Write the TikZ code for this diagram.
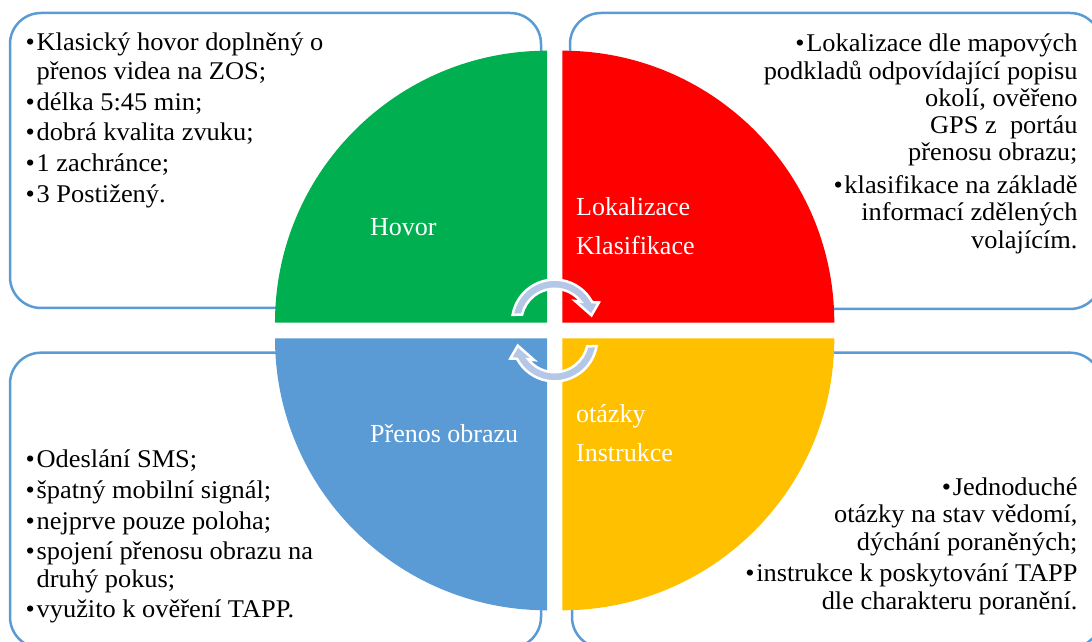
\documentclass[tikz,border=0pt]{standalone}
\usepackage{fontspec}
\setmainfont{Liberation Serif}
\newfontfamily\bodyfont{Liberation Serif}[FakeStretch=1.035]
\definecolor{qgreen}{HTML}{00B050}
\definecolor{qred}{HTML}{FF0000}
\definecolor{qblue}{HTML}{5B9BD5}
\definecolor{qyellow}{HTML}{FFC000}
\definecolor{frame}{HTML}{5B9BD5}
\definecolor{arrowfill}{HTML}{B4C7E7}
\newcommand{\bul}{\makebox[11pt][l]{•}}
\newcommand{\ind}{\hspace*{11pt}}
\begin{document}
\begin{tikzpicture}[x=1pt,y=1pt,
  infobox/.style={draw=frame, line width=2.5pt, rounded corners=31pt},
  body/.style={font=\bodyfont\fontsize{25.5}{27.3}\selectfont, inner sep=0pt},
  lbl/.style={font=\fontsize{26}{39}\selectfont, text=white, inner sep=0pt, align=left, anchor=base west},
  cyclearrow/.pic={
    \filldraw[fill=arrowfill, draw=white, line width=2.5pt, line join=miter]
      (170:42.6) arc[start angle=170, end angle=28, radius=42.6]
      -- (24:48.5) -- (10.5:37.5) -- (46:29.5) -- (38:33.4)
      arc[start angle=38, end angle=167, radius=33.4] -- cycle;
  }]
\useasboundingbox (0,0) rectangle (1092,642);
\clip (0,0) rectangle (1092,642);

% rounded frames behind the quarters
\draw[infobox] (10,334) rectangle (541,629);
\draw[infobox] (570,333) rectangle (1101,629);
\draw[infobox] (10,-6) rectangle (541,289.3);
\draw[infobox] (572,-6) rectangle (1101,289.3);

% four quarters of the disc
\fill[qgreen] (547,319.3) -- ++(0,272) arc[start angle=90, end angle=180, radius=272] -- cycle;
\fill[qred] (562.3,319.3) -- ++(272,0) arc[start angle=0, end angle=90, radius=272] -- cycle;
\fill[qblue] (547,303.7) -- ++(-272,0) arc[start angle=180, end angle=270, radius=272] -- cycle;
\fill[qyellow] (562.3,303.7) -- ++(0,-272) arc[start angle=270, end angle=360, radius=272] -- cycle;

% circular arrows in the middle
\pic (cycletop) at (554.6,319.8) {cyclearrow};
\pic[rotate=180] (cyclebottom) at (554.6,303.2) {cyclearrow};

% quarter labels (anchored at the baseline of the last line)
\node[lbl] (hovor) at (370,406.5) {Hovor};
\node[lbl] (lokal) at (576,387) {Lokalizace\\Klasifikace};
\node[lbl] (prenos) at (370,199.5) {Přenos obrazu};
\node[lbl] (instr) at (576,180) {otázky\\Instrukce};

% texts in the frames (anchored at the baseline of the last line)
\node[body, align=left, anchor=base west] (tltext) at (25.5,439.7) {%
\bul Klasický hovor doplněný o\\[1.5pt]
\ind přenos videa na ZOS;\\[3.4pt]
\bul délka 5:45 min;\\[3.4pt]
\bul dobrá kvalita zvuku;\\[3.4pt]
\bul 1 zachránce;\\[3.4pt]
\bul 3 Postižený.};

\node[body, align=right, anchor=base east] (trtext) at (1077.7,393.7) {%
\bul Lokalizace dle mapových\\
podkladů odpovídající popisu\\
okolí, ověřeno\\
GPS z\ \ portáu\\
přenosu obrazu;\\[5.4pt]
\bul klasifikace na základě\\
informací zdělených\\
volajícím.};

\node[body, align=left, anchor=base west] (bltext) at (25.5,24) {%
\bul Odeslání SMS;\\[3.5pt]
\bul špatný mobilní signál;\\[3.5pt]
\bul nejprve pouze poloha;\\[3.5pt]
\bul spojení přenosu obrazu na\\
\ind druhý pokus;\\[3.5pt]
\bul využito k ověření TAPP.};

\node[body, align=right, anchor=base east] (brtext) at (1077.7,32.7) {%
\bul Jednoduché\\
otázky na stav vědomí,\\
dýchání poraněných;\\[4.4pt]
\bul instrukce k poskytování TAPP\\
dle charakteru poranění.};
\end{tikzpicture}
\end{document}
